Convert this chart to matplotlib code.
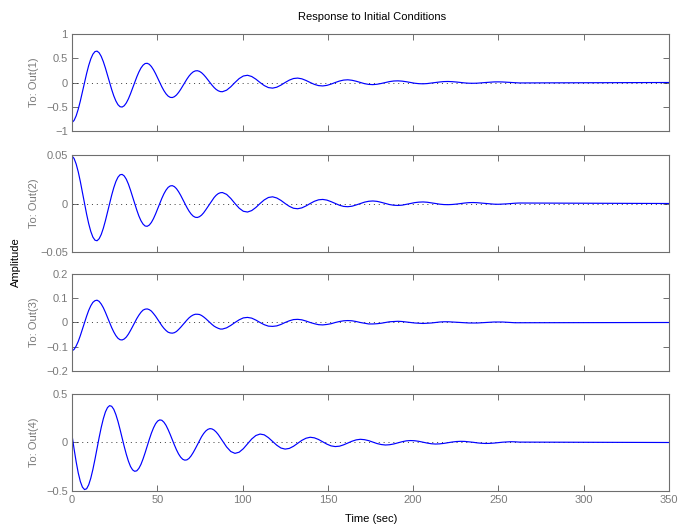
# coding: utf-8

import matplotlib
import numpy as np

matplotlib.use('Agg')
import matplotlib.pyplot as plt

# values, one sample every 2.45 s (12 per oscillation),
# last value is the settled level at t = 350 s
sample_step = 2.45
end_time = 350.0

out1 = [
    -0.826, -0.687, -0.381, 0.000, 0.351, 0.583, 0.647, 0.538, 0.298, 0.000, -0.275, -0.457,
    -0.506, -0.421, -0.233, 0.000, 0.215, 0.357, 0.396, 0.329, 0.183, 0.000, -0.168, -0.280,
    -0.310, -0.258, -0.143, 0.000, 0.132, 0.219, 0.243, 0.202, 0.112, 0.000, -0.103, -0.171,
    -0.190, -0.158, -0.088, 0.000, 0.081, 0.134, 0.149, 0.124, 0.069, 0.000, -0.063, -0.105,
    -0.116, -0.097, -0.054, 0.000, 0.049, 0.082, 0.091, 0.076, 0.042, 0.000, -0.039, -0.064,
    -0.071, -0.059, -0.033, 0.000, 0.030, 0.050, 0.056, 0.046, 0.026, 0.000, -0.024, -0.039,
    -0.044, -0.036, -0.020, 0.000, 0.019, 0.031, 0.034, 0.028, 0.016, 0.000, -0.015, -0.024,
    -0.027, -0.022, -0.012, 0.000, 0.011, 0.019, 0.021, 0.017, 0.010, 0.000, -0.009, -0.015,
    -0.016, -0.014, -0.008, 0.000, 0.007, 0.012, 0.013, 0.011, 0.006, 0.000, -0.005, -0.009,
    0.000,
]

out2 = [
    0.0490, 0.0407, 0.0226, 0.0000, -0.0208, -0.0346, -0.0384, -0.0319, -0.0177, 0.0000, 0.0163, 0.0271,
    0.0300, 0.0250, 0.0138, 0.0000, -0.0128, -0.0212, -0.0235, -0.0195, -0.0108, 0.0000, 0.0100, 0.0166,
    0.0184, 0.0153, 0.0085, 0.0000, -0.0078, -0.0130, -0.0144, -0.0120, -0.0066, 0.0000, 0.0061, 0.0102,
    0.0113, 0.0094, 0.0052, 0.0000, -0.0048, -0.0080, -0.0088, -0.0073, -0.0041, 0.0000, 0.0037, 0.0062,
    0.0069, 0.0057, 0.0032, 0.0000, -0.0029, -0.0049, -0.0054, -0.0045, -0.0025, 0.0000, 0.0023, 0.0038,
    0.0042, 0.0035, 0.0019, 0.0000, -0.0018, -0.0030, -0.0033, -0.0028, -0.0015, 0.0000, 0.0014, 0.0023,
    0.0026, 0.0022, 0.0012, 0.0000, -0.0011, -0.0018, -0.0020, -0.0017, -0.0009, 0.0000, 0.0009, 0.0014,
    0.0016, 0.0013, 0.0007, 0.0000, -0.0007, -0.0011, -0.0012, -0.0010, -0.0006, 0.0000, 0.0005, 0.0009,
    0.0010, 0.0008, 0.0004, 0.0000, -0.0004, -0.0007, -0.0008, -0.0006, -0.0004, 0.0000, 0.0003, 0.0005,
    0.0000,
]

out3 = [
    -0.117, -0.097, -0.054, 0.000, 0.050, 0.083, 0.092, 0.076, 0.042, 0.000, -0.039, -0.065,
    -0.072, -0.060, -0.033, 0.000, 0.030, 0.051, 0.056, 0.047, 0.026, 0.000, -0.024, -0.040,
    -0.044, -0.037, -0.020, 0.000, 0.019, 0.031, 0.034, 0.029, 0.016, 0.000, -0.015, -0.024,
    -0.027, -0.022, -0.012, 0.000, 0.011, 0.019, 0.021, 0.018, 0.010, 0.000, -0.009, -0.015,
    -0.016, -0.014, -0.008, 0.000, 0.007, 0.012, 0.013, 0.011, 0.006, 0.000, -0.005, -0.009,
    -0.010, -0.008, -0.005, 0.000, 0.004, 0.007, 0.008, 0.007, 0.004, 0.000, -0.003, -0.006,
    -0.006, -0.005, -0.003, 0.000, 0.003, 0.004, 0.005, 0.004, 0.002, 0.000, -0.002, -0.003,
    -0.004, -0.003, -0.002, 0.000, 0.002, 0.003, 0.003, 0.002, 0.001, 0.000, -0.001, -0.002,
    -0.002, -0.002, -0.001, 0.000, 0.001, 0.002, 0.002, 0.002, 0.001, 0.000, -0.001, -0.001,
    0.000,
]

out4 = [
    0.077, -0.199, -0.402, -0.485, -0.436, -0.278, -0.060, 0.156, 0.315, 0.380, 0.342, 0.218,
    0.047, -0.122, -0.247, -0.297, -0.267, -0.170, -0.037, 0.096, 0.193, 0.233, 0.209, 0.133,
    0.029, -0.075, -0.151, -0.182, -0.164, -0.104, -0.023, 0.059, 0.118, 0.143, 0.128, 0.082,
    0.018, -0.046, -0.093, -0.112, -0.100, -0.064, -0.014, 0.036, 0.072, 0.087, 0.079, 0.050,
    0.011, -0.028, -0.057, -0.068, -0.061, -0.039, -0.009, 0.022, 0.044, 0.054, 0.048, 0.031,
    0.007, -0.017, -0.035, -0.042, -0.038, -0.024, -0.005, 0.013, 0.027, 0.033, 0.029, 0.019,
    0.004, -0.011, -0.021, -0.026, -0.023, -0.015, -0.003, 0.008, 0.017, 0.020, 0.018, 0.012,
    0.003, -0.006, -0.013, -0.016, -0.014, -0.009, -0.002, 0.005, 0.010, 0.012, 0.011, 0.007,
    0.002, -0.004, -0.008, -0.010, -0.009, -0.006, -0.001, 0.003, 0.006, 0.008, 0.007, 0.004,
    0.000,
]

# extra readings half way between the first 36 samples, where the swings are large
out1_mid = [
    -0.782, -0.549, -0.193, 0.185, 0.486, 0.637, 0.612, 0.430, 0.151, -0.145, -0.380, -0.499,
    -0.479, -0.337, -0.118, 0.114, 0.298, 0.391, 0.375, 0.263, 0.093, -0.089, -0.233, -0.306,
    -0.293, -0.206, -0.072, 0.070, 0.182, 0.239, 0.230, 0.161, 0.057, -0.054, -0.143, -0.187,
]
out2_mid = [
    0.0464, 0.0326, 0.0115, -0.0110, -0.0288, -0.0378, -0.0363, -0.0255, -0.0090, 0.0086, 0.0226, 0.0296,
    0.0284, 0.0200, 0.0070, -0.0067, -0.0177, -0.0232, -0.0222, -0.0156, -0.0055, 0.0053, 0.0138, 0.0181,
    0.0174, 0.0122, 0.0043, -0.0041, -0.0108, -0.0142, -0.0136, -0.0096, -0.0034, 0.0032, 0.0085, 0.0111,
]
out3_mid = [
    -0.111, -0.078, -0.027, 0.026, 0.069, 0.090, 0.087, 0.061, 0.021, -0.021, -0.054, -0.071,
    -0.068, -0.048, -0.017, 0.016, 0.042, 0.055, 0.053, 0.037, 0.013, -0.013, -0.033, -0.043,
    -0.042, -0.029, -0.010, 0.010, 0.026, 0.034, 0.033, 0.023, 0.008, -0.008, -0.020, -0.027,
]
out4_mid = [
    -0.066, -0.314, -0.460, -0.477, -0.368, -0.173, 0.052, 0.245, 0.360, 0.373, 0.288, 0.135,
    -0.041, -0.192, -0.282, -0.292, -0.226, -0.106, 0.032, 0.150, 0.221, 0.229, 0.177, 0.083,
    -0.025, -0.118, -0.173, -0.179, -0.138, -0.065, 0.019, 0.092, 0.135, 0.140, 0.108, 0.051,
]

outputs = [out1, out2, out3, out4]
outputs_mid = [out1_mid, out2_mid, out3_mid, out4_mid]
output_names = ["To: Out(1)", "To: Out(2)", "To: Out(3)", "To: Out(4)"]
y_limits = [(-1, 1), (-0.05, 0.05), (-0.2, 0.2), (-0.5, 0.5)]
y_ticks = [
    [-1, -0.5, 0, 0.5, 1],
    [-0.05, 0, 0.05],
    [-0.2, -0.1, 0, 0.1, 0.2],
    [-0.5, 0, 0.5],
]
y_tick_labels = [
    ["\u22121", "\u22120.5", "0", "0.5", "1"],
    ["\u22120.05", "0", "0.05"],
    ["\u22120.2", "\u22120.1", "0", "0.1", "0.2"],
    ["\u22120.5", "0", "0.5"],
]
x_ticks = [0, 50, 100, 150, 200, 250, 300, 350]

plt.rcParams['font.family'] = ['Liberation Sans', 'DejaVu Sans']
plt.rcParams['font.size'] = 8

GRAY_TEXT = "#7a7a7a"
GRAY_AXES = "#6e6e6e"

fig = plt.figure(figsize=(6.81, 5.27), dpi=100)
panel_bottoms = [0.7514, 0.5218, 0.2960, 0.0683]
panel_left, panel_width, panel_height = 0.1057, 0.8767, 0.1841

for i, values in enumerate(outputs):
    mids = outputs_mid[i]
    n = len(values) - 1
    t = np.concatenate([np.arange(n) * sample_step,
                        (np.arange(len(mids)) + 0.5) * sample_step,
                        [end_time]])
    y = np.concatenate([values[:-1], mids, values[-1:]])
    order = np.argsort(t)
    t, y = t[order], y[order]

    ax = fig.add_axes([panel_left, panel_bottoms[i], panel_width, panel_height])
    ax.plot([0, end_time], [0, 0], color="black", linestyle=(0, (1.5, 5.5)),
            linewidth=0.5)
    ax.plot(t, y, color="#0000ff", linewidth=0.85)
    ax.set_xlim(0, end_time)
    ax.set_ylim(*y_limits[i])
    ax.set_yticks(y_ticks[i])
    ax.set_yticklabels(y_tick_labels[i])
    ax.set_xticks(x_ticks)
    ax.tick_params(direction="in", length=4, width=0.7, colors=GRAY_AXES,
                   labelcolor=GRAY_TEXT, top=True, right=True, pad=3)
    if i < 3:
        ax.set_xticklabels([])
    for spine in ax.spines.values():
        spine.set_color(GRAY_AXES)
        spine.set_linewidth(0.8)
    ax.set_ylabel(output_names[i], color=GRAY_TEXT)
    ax.yaxis.set_label_coords(-0.055, 0.5)

fig.text(372.5 / 681, 0.9677, "Response to Initial Conditions", ha="center", va="center")
fig.text(371.5 / 681, 0.0152, "Time (sec)", ha="center", va="center")
fig.text(15.5 / 681, 0.503, "Amplitude", ha="center", va="center", rotation=90)

fig.savefig("out.png", dpi=100)
plt.close(fig)
